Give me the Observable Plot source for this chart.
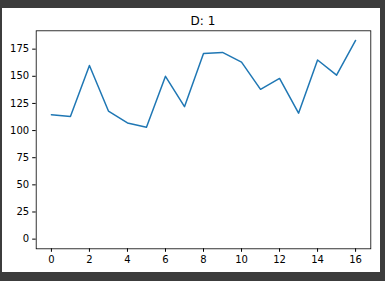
<!DOCTYPE html>
<html>
<head>
<meta charset="utf-8">
<script src="https://cdn.jsdelivr.net/npm/d3@7"></script>
<script src="https://cdn.jsdelivr.net/npm/@observablehq/plot@0.6"></script>
<style>
  html, body { margin: 0; padding: 0; background: #3c3c3c; width: 385px; height: 281px; overflow: hidden; }
  #panel { position: absolute; left: 2px; top: 8px; width: 378px; height: 264px; background: #ffffff; }
  #title { position: absolute; left: 33.7px; width: 334.6px; top: 6px; text-align: center;
           font-family: "DejaVu Sans", sans-serif; font-size: 12px; color: #000; line-height: 14px; }
  #chart { position: absolute; left: 0; top: 0; }
</style>
</head>
<body>
<div id="panel">
  <div id="chart"></div>
  <div id="title">D: 1</div>
</div>
<script>
const xValues = [0, 1, 2, 3, 4, 5, 6, 7, 8, 9, 10, 11, 12, 13, 14, 15, 16];
const yValues = [114.5, 113, 160, 118, 107, 103, 150, 122, 171, 172, 163, 138, 148, 116, 165, 151, 183];
const xTicks = [0, 2, 4, 6, 8, 10, 12, 14, 16];
const yTicks = [0, 25, 50, 75, 100, 125, 150, 175];

const data = xValues.map((x, i) => ({x, y: yValues[i]}));

const plot = Plot.plot({
  width: 378,
  height: 264,
  marginLeft: 33.7,
  marginRight: 9.7,
  marginTop: 22.3,
  marginBottom: 23.7,
  style: { fontFamily: "DejaVu Sans, sans-serif", fontSize: "10px", color: "#000", background: "transparent" },
  x: { domain: [-0.8, 16.8], ticks: xTicks, tickSize: 3.5, tickPadding: 3.5, label: null, tickFormat: d => String(d) },
  y: { domain: [-8.9, 191.9], ticks: yTicks, tickSize: 3.5, tickPadding: 3.5, label: null, tickFormat: d => String(d) },
  marks: [
    Plot.line(data, { x: "x", y: "y", stroke: "#1f77b4", strokeWidth: 1.5 }),
    Plot.frame({ stroke: "#000", strokeWidth: 0.8 })
  ]
});
document.getElementById("chart").appendChild(plot);
</script>
</body>
</html>
